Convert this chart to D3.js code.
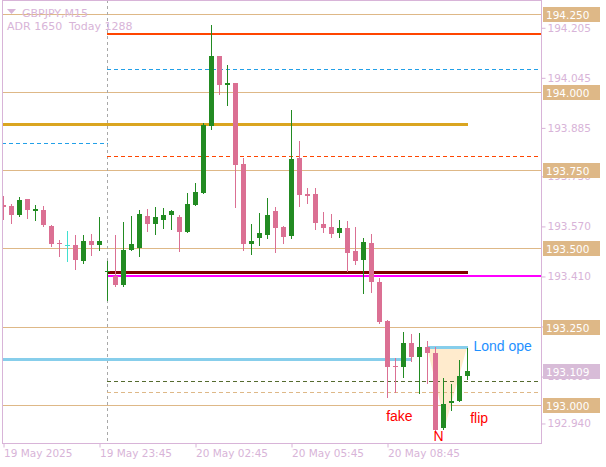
<!DOCTYPE html>
<html><head><meta charset="utf-8">
<script src="https://cdn.jsdelivr.net/npm/d3@7"></script>
<style>html,body{margin:0;padding:0;background:#fff;}svg{display:block;}</style>
</head><body>
<svg id="chart" width="606" height="467"></svg>
<script>
// ---------- DATA ----------
const symbolTitle = "GBPJPY,M15";
const adrText = "ADR 1650  Today 1288";
const openP  = [193.639,193.636,193.605,193.658,193.620,193.623,193.572,193.517,193.511,193.510,193.460,193.524,193.510,193.423,193.412,193.383,193.493,193.501,193.604,193.578,193.591,193.607,193.601,193.553,193.639,193.677,193.891,194.115,194.022,194.029,193.770,193.514,193.533,193.543,193.620,193.569,193.540,193.789,193.674,193.674,193.578,193.569,193.550,193.565,193.492,193.463,193.517,193.393,193.268,193.124,193.122,193.198,193.151,193.185,193.166,192.926,193.004,193.013,193.092];
const highP  = [193.668,193.642,193.663,193.659,193.640,193.636,193.575,193.525,193.554,193.543,193.543,193.546,193.600,193.461,193.543,193.585,193.604,193.623,193.626,193.632,193.629,193.623,193.607,193.677,193.709,193.901,194.214,194.116,194.086,194.030,193.789,193.578,193.613,193.661,193.632,193.572,193.942,193.843,193.693,193.693,193.616,193.610,193.591,193.588,193.569,193.533,193.546,193.406,193.271,193.150,193.233,193.227,193.230,193.204,193.185,193.086,193.067,193.144,193.182];
const lowP   = [193.594,193.582,193.604,193.598,193.589,193.572,193.506,193.477,193.461,193.434,193.454,193.479,193.495,193.335,193.378,193.378,193.493,193.476,193.556,193.546,193.565,193.562,193.492,193.552,193.638,193.676,193.882,193.993,193.958,193.632,193.495,193.482,193.511,193.533,193.489,193.517,193.533,193.636,193.645,193.562,193.553,193.537,193.537,193.428,193.450,193.358,193.361,193.262,193.026,193.040,193.090,193.141,193.039,193.071,192.918,192.923,192.984,193.012,193.083];
const closeP = [193.632,193.605,193.655,193.624,193.626,193.573,193.515,193.514,193.511,193.463,193.524,193.511,193.522,193.428,193.383,193.495,193.514,193.610,193.578,193.601,193.607,193.620,193.553,193.642,193.680,193.894,194.115,194.022,194.029,193.767,193.514,193.524,193.550,193.607,193.565,193.537,193.786,193.671,193.668,193.581,193.565,193.546,193.565,193.485,193.460,193.521,193.393,193.265,193.121,193.120,193.198,193.154,193.185,193.164,192.920,193.003,193.013,193.092,193.109];

const timeTickBars   = [0, 12, 24, 36, 48];
const timeTickLabels = ["19 May 2025", "19 May 23:45", "20 May 02:45", "20 May 05:45", "20 May 08:45"];
const daySeparatorBar = 13;

const priceTicks  = [194.205, 194.045, 193.885, 193.730, 193.570, 193.410, 193.250, 193.090, 192.940];
const roundLevels = [194.250, 194.000, 193.750, 193.500, 193.250, 193.000];
const currentPrice = 193.109;

// level lines: price + bar span (null = chart edge)
const levelIds    = ["prevBlue", "dayHigh", "adrBlue", "goldLevel", "redDash", "maroon", "magenta", "londonLow", "londonOpen", "oliveDash", "tanDash"];
const levelPrices = [193.836, 194.186, 194.072, 193.897, 193.795, 193.424, 193.410, 193.147, 193.184, 193.076, 193.040];
const levelFrom   = [null, 13, 13, null, 13, 13, 13, null, 53, 13, 13];
const levelTo     = [13, null, null, 58, null, 58, null, 51, 58, null, null];

const zoneTriangle = [[53, 193.184], [58, 193.184], [55.3, 192.936]];
const annotations = [
  {text: "fake", bar: 47.9, price: 192.948},
  {text: "flip", bar: 58.4, price: 192.940},
  {text: "N",    bar: 53.8, price: 192.883},
  {text: "Lond open", bar: 58.8, price: 193.173}
];

// ---------- LAYOUT / STYLE ----------
const W = 606, H = 467;
const plot = {l: 2, r: 541, t: 0, b: 443};
const svg = d3.select("#chart");
const C = {
  axis: "#d8b4d8", up: "#228b22", down: "#db7093", doji: "#40e0d0",
  tan: "#deb887", sep: "#a8a8a8"
};
const levelStyle = {
  prevBlue:   {c: "#22a0e8", w: 1, dash: "4,3"},
  dayHigh:    {c: "#ff4500", w: 2},
  adrBlue:    {c: "#22a0e8", w: 1, dash: "4,3"},
  goldLevel:  {c: "#daa520", w: 3},
  redDash:    {c: "#ff4500", w: 1, dash: "4,3"},
  maroon:     {c: "#800000", w: 3},
  magenta:    {c: "#ff00ff", w: 2},
  londonLow:  {c: "#87ceeb", w: 3},
  londonOpen: {c: "#87ceeb", w: 3},
  oliveDash:  {c: "#556b2f", w: 1, dash: "4,3"},
  tanDash:    {c: "#deb887", w: 1, dash: "4,3"}
};

const x = d3.scaleLinear().domain([0, 58]).range([3, 467]);
const y = d3.scaleLinear().domain([192.8776, 194.2938]).range([plot.b, plot.t]);
const cy = v => Math.round(y(v));

svg.append("rect").attr("width", W).attr("height", H).attr("fill", "#fff");
const defs = svg.append("defs");
defs.append("clipPath").attr("id", "clip")
  .append("rect").attr("x", plot.l + 1).attr("y", plot.t).attr("width", plot.r - plot.l - 1).attr("height", plot.b - plot.t);
defs.append("clipPath").attr("id", "clipText")
  .append("rect").attr("x", plot.l + 1).attr("y", plot.t).attr("width", 529).attr("height", plot.b - plot.t);

const g = svg.append("g").attr("clip-path", "url(#clip)");

// round levels (tan)
g.selectAll("line.round").data(roundLevels).join("line")
  .attr("x1", plot.l).attr("x2", plot.r)
  .attr("y1", d => cy(d) + 0.5).attr("y2", d => cy(d) + 0.5)
  .attr("stroke", C.tan).attr("stroke-width", 1);

// day separator
g.append("line").attr("x1", x(daySeparatorBar) + 0.5).attr("x2", x(daySeparatorBar) + 0.5)
  .attr("y1", plot.t).attr("y2", plot.b).attr("stroke", C.sep).attr("stroke-dasharray", "3,3");

// zone triangle
g.append("path")
  .attr("d", d3.line().x(d => x(d[0])).y(d => y(d[1]))(zoneTriangle) + "Z")
  .attr("fill", "#ffebcd").attr("stroke", "none");

// level lines
const levels = levelIds.map((id, i) => ({id, price: levelPrices[i], from: levelFrom[i], to: levelTo[i]}));
g.selectAll("line.level").data(levels).join("line")
  .attr("x1", d => d.from === null ? plot.l : x(d.from))
  .attr("x2", d => d.to === null ? plot.r : x(d.to) + 1)
  .attr("y1", d => levelStyle[d.id].w % 2 ? cy(d.price) + 0.5 : cy(d.price))
  .attr("y2", d => levelStyle[d.id].w % 2 ? cy(d.price) + 0.5 : cy(d.price))
  .attr("stroke", d => levelStyle[d.id].c)
  .attr("stroke-width", d => levelStyle[d.id].w)
  .attr("stroke-dasharray", d => levelStyle[d.id].dash || null);

// candles
const bars = openP.map((o, i) => ({i, o, h: highP[i], l: lowP[i], c: closeP[i]}));
const col = d => d.c > d.o ? C.up : (d.c < d.o ? C.down : C.doji);
const cg = g.append("g");
cg.selectAll("line.wick").data(bars).join("line")
  .attr("x1", d => x(d.i) + 0.5).attr("x2", d => x(d.i) + 0.5)
  .attr("y1", d => cy(d.h)).attr("y2", d => cy(d.l) + 1)
  .attr("stroke", col).attr("stroke-width", 1);
cg.selectAll("rect.body").data(bars).join("rect")
  .attr("x", d => x(d.i) - 2).attr("width", 5)
  .attr("y", d => cy(Math.max(d.o, d.c)))
  .attr("height", d => Math.max(1, cy(Math.min(d.o, d.c)) - cy(Math.max(d.o, d.c))))
  .attr("fill", col);

// annotations
svg.append("g").attr("clip-path", "url(#clipText)")
  .selectAll("text.ann").data(annotations).join("text")
  .attr("x", d => x(d.bar)).attr("y", d => y(d.price))
  .attr("fill", d => d.text === "Lond open" ? "#1e90ff" : "#ff0000")
  .attr("font-family", "'Liberation Sans', Arial, sans-serif")
  .attr("font-size", 14)
  .text(d => d.text);

// frame
svg.append("rect").attr("x", plot.l + 0.5).attr("y", plot.t + 0.5)
  .attr("width", plot.r - plot.l).attr("height", plot.b - plot.t)
  .attr("fill", "none").attr("stroke", C.axis);

// y axis
const yAxis = d3.axisRight(y).tickValues(priceTicks).tickSize(4).tickPadding(2).tickFormat(d3.format(".3f"));
const ya = svg.append("g").attr("transform", `translate(${plot.r + 0.5},0)`).call(yAxis);
ya.select(".domain").remove();
ya.selectAll(".tick line").attr("stroke", C.axis);
ya.selectAll(".tick text").attr("fill", C.axis).attr("font-family", "'DejaVu Sans', sans-serif").attr("font-size", 10.5);

// label boxes
const boxes = roundLevels.map(v => ({v, bg: C.tan})).concat([{v: currentPrice, bg: "#d8bcd8"}]);
const bx = svg.append("g");
bx.selectAll("rect").data(boxes).join("rect")
  .attr("x", plot.r + 2).attr("width", 57)
  .attr("y", d => cy(d.v) - 7).attr("height", 15)
  .attr("fill", d => d.bg);
bx.selectAll("text").data(boxes).join("text")
  .attr("x", plot.r + 5).attr("y", d => cy(d.v) + 4.5)
  .attr("fill", "#fff").attr("font-family", "'DejaVu Sans', sans-serif").attr("font-size", 10.5)
  .text(d => d3.format(".3f")(d.v));

// x axis
const xAxis = d3.axisBottom(x).tickValues(timeTickBars).tickSize(4).tickPadding(2)
  .tickFormat((d, i) => timeTickLabels[i]);
const xa = svg.append("g").attr("transform", `translate(0.5,${plot.b + 0.5})`).call(xAxis);
xa.select(".domain").remove();
xa.selectAll(".tick line").attr("stroke", C.axis);
xa.selectAll(".tick text").attr("fill", C.axis).attr("text-anchor", "start").attr("dx", 0)
  .attr("font-family", "'DejaVu Sans', sans-serif").attr("font-size", 10.5);

// title
svg.append("path").attr("d", "M7,9 L16,9 L11.5,14 Z").attr("fill", C.axis);
svg.append("text").attr("x", 22).attr("y", 17).attr("fill", C.axis)
  .attr("font-family", "'DejaVu Sans', sans-serif").attr("font-size", 11).text(symbolTitle);
svg.append("text").attr("x", 7).attr("y", 30).attr("fill", C.axis)
  .attr("font-family", "'DejaVu Sans', sans-serif").attr("font-size", 11)
  .attr("xml:space", "preserve").style("white-space", "pre").text(adrText);
</script>
</body></html>
